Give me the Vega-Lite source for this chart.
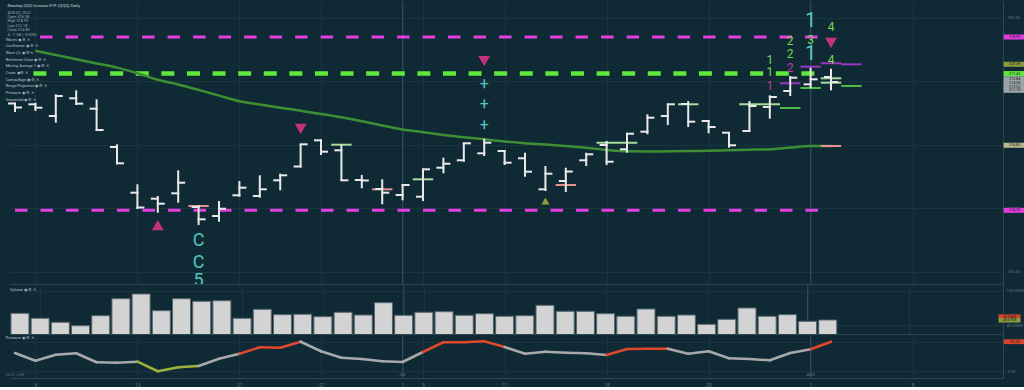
{
  "$schema": "https://vega.github.io/schema/vega-lite/v6.json",
  "background": "#102a35",
  "padding": {"left": 5, "top": 0, "right": 0, "bottom": 0},
  "spacing": 0,
  "bounds": "flush",
  "config": {
    "view": {"stroke": null},
    "font": "Roboto",
    "axis": {"labelFont": "Roboto", "labelFontSize": 4.2, "labelColor": "#5f7884", "gridColor": "#1a3440", "domainColor": "#2a4752", "ticks": false, "labelFlush": false, "labelOverlap": false}
  },
  "title": {
    "text": ["Waves  ◉ ⚙ ✕", "Confluence  ◉ ⚙ ✕", "Wave (2)  ◉ ⚙ ✕", "Reference Close  ◉ ⚙ ✕", "Moving Average 1  ◉ ⚙ ✕", "Cross  ◉ ⚙ ✕", "Camouflage  ◉ ⚙ ✕", "Range Projection  ◉ ⚙ ✕", "Pressure  ◉ ⚙ ✕", "Sequential  ◉ ⚙ ✕"],
    "anchor": "start", "orient": "top", "offset": 0, "dy": 101, "font": "Roboto", "fontSize": 3.8, "fontWeight": "normal", "color": "#b9c5ca", "lineHeight": 6.67
  },
  "datasets": {
    "bars": [
      {"i": 0, "d": "2022-06-03", "o": 308.02, "h": 308.27, "l": 305.34, "c": 306.76, "v": 61.0, "pr": 62.5, "pc": "n", "ma": null},
      {"i": 1, "d": "2022-06-06", "o": 307.77, "h": 308.27, "l": 305.65, "c": 306.69, "v": 52.3, "pr": 36.2, "pc": "n", "ma": 324.67},
      {"i": 2, "d": "2022-06-07", "o": 304.08, "h": 310.92, "l": 301.96, "c": 310.38, "v": 45.3, "pr": 56.7, "pc": "n", "ma": 323.31},
      {"i": 3, "d": "2022-06-08", "o": 309.66, "h": 312.18, "l": 307.55, "c": 307.96, "v": 39.3, "pr": 61.4, "pc": "n", "ma": 321.99},
      {"i": 4, "d": "2022-06-09", "o": 306.38, "h": 309.34, "l": 299.35, "c": 299.66, "v": 56.8, "pr": 30.7, "pc": "n", "ma": 320.66},
      {"i": 5, "d": "2022-06-10", "o": 294.30, "h": 295.15, "l": 288.85, "c": 289.16, "v": 86.5, "pr": 29.4, "pc": "n", "ma": 319.34},
      {"i": 6, "d": "2022-06-13", "o": 279.89, "h": 282.54, "l": 274.75, "c": 275.22, "v": 94.8, "pr": 32.8, "pc": "d", "ma": 317.54},
      {"i": 7, "d": "2022-06-14", "o": 278.00, "h": 278.85, "l": 273.58, "c": 276.42, "v": 65.6, "pr": 0.0, "pc": "d", "ma": 315.49},
      {"i": 8, "d": "2022-06-15", "o": 279.70, "h": 286.95, "l": 276.74, "c": 283.04, "v": 86.5, "pr": 13.7, "pc": "d", "ma": 314.01},
      {"i": 9, "d": "2022-06-16", "o": 275.38, "h": 276.01, "l": 269.70, "c": 271.50, "v": 82.0, "pr": 18.1, "pc": "n", "ma": 312.31},
      {"i": 10, "d": "2022-06-17", "o": 272.54, "h": 277.27, "l": 270.74, "c": 274.84, "v": 83.0, "pr": 43.0, "pc": "n", "ma": 310.51},
      {"i": 11, "d": "2022-06-21", "o": 279.07, "h": 283.58, "l": 278.63, "c": 281.47, "v": 52.3, "pr": 60.1, "pc": "u", "ma": 308.74},
      {"i": 12, "d": "2022-06-22", "o": 278.85, "h": 285.38, "l": 278.31, "c": 280.96, "v": 68.0, "pr": 81.9, "pc": "u", "ma": 307.70},
      {"i": 13, "d": "2022-06-23", "o": 283.80, "h": 285.88, "l": 280.65, "c": 285.38, "v": 58.6, "pr": 80.5, "pc": "u", "ma": 306.69},
      {"i": 14, "d": "2022-06-24", "o": 288.15, "h": 295.15, "l": 287.90, "c": 295.15, "v": 59.3, "pr": 101.0, "pc": "n", "ma": 305.72},
      {"i": 15, "d": "2022-06-27", "o": 296.41, "h": 296.73, "l": 291.78, "c": 292.82, "v": 55.1, "pr": 68.3, "pc": "n", "ma": 304.74},
      {"i": 16, "d": "2022-06-28", "o": 293.26, "h": 295.15, "l": 283.58, "c": 283.80, "v": 62.8, "pr": 46.4, "pc": "n", "ma": 303.67},
      {"i": 17, "d": "2022-06-29", "o": 283.89, "h": 285.47, "l": 281.28, "c": 283.74, "v": 58.0, "pr": 42.0, "pc": "n", "ma": 302.41},
      {"i": 18, "d": "2022-06-30", "o": 281.06, "h": 284.11, "l": 276.23, "c": 279.89, "v": 79.5, "pr": 34.1, "pc": "n", "ma": 301.11},
      {"i": 19, "d": "2022-07-01", "o": 279.16, "h": 282.54, "l": 277.49, "c": 282.32, "v": 57.5, "pr": 31.7, "pc": "n", "ma": 299.82},
      {"i": 20, "d": "2022-07-05", "o": 278.63, "h": 287.46, "l": 277.27, "c": 287.27, "v": 62.8, "pr": 65.9, "pc": "u", "ma": 298.97},
      {"i": 21, "d": "2022-07-06", "o": 287.77, "h": 290.93, "l": 286.01, "c": 289.03, "v": 63.8, "pr": 99.0, "pc": "u", "ma": 298.12},
      {"i": 22, "d": "2022-07-07", "o": 290.11, "h": 295.66, "l": 289.66, "c": 295.47, "v": 57.5, "pr": 99.0, "pc": "u", "ma": 297.39},
      {"i": 23, "d": "2022-07-08", "o": 292.31, "h": 296.92, "l": 291.46, "c": 295.66, "v": 60.3, "pr": 102.4, "pc": "u", "ma": 296.73},
      {"i": 24, "d": "2022-07-11", "o": 293.04, "h": 293.26, "l": 288.62, "c": 289.35, "v": 55.8, "pr": 82.9, "pc": "n", "ma": 296.07},
      {"i": 25, "d": "2022-07-12", "o": 290.74, "h": 292.50, "l": 284.93, "c": 286.51, "v": 56.8, "pr": 60.1, "pc": "n", "ma": 295.50},
      {"i": 26, "d": "2022-07-13", "o": 280.96, "h": 288.31, "l": 280.42, "c": 285.88, "v": 75.0, "pr": 66.9, "pc": "n", "ma": 295.06},
      {"i": 27, "d": "2022-07-14", "o": 283.58, "h": 287.77, "l": 280.11, "c": 286.57, "v": 64.5, "pr": 63.5, "pc": "n", "ma": 294.58},
      {"i": 28, "d": "2022-07-15", "o": 290.11, "h": 292.50, "l": 288.31, "c": 292.00, "v": 64.5, "pr": 61.4, "pc": "n", "ma": 294.05},
      {"i": 29, "d": "2022-07-18", "o": 294.93, "h": 296.19, "l": 288.62, "c": 289.66, "v": 60.3, "pr": 55.6, "pc": "u", "ma": 293.39},
      {"i": 30, "d": "2022-07-19", "o": 293.58, "h": 298.81, "l": 292.50, "c": 298.49, "v": 55.8, "pr": 76.1, "pc": "u", "ma": 292.94},
      {"i": 31, "d": "2022-07-20", "o": 299.13, "h": 304.61, "l": 298.31, "c": 303.54, "v": 68.5, "pr": 77.1, "pc": "u", "ma": 292.88},
      {"i": 32, "d": "2022-07-21", "o": 304.08, "h": 307.96, "l": 301.24, "c": 307.77, "v": 55.8, "pr": 77.1, "pc": "n", "ma": 292.94},
      {"i": 33, "d": "2022-07-22", "o": 307.86, "h": 308.81, "l": 300.61, "c": 302.28, "v": 58.0, "pr": 60.1, "pc": "n", "ma": 293.01},
      {"i": 34, "d": "2022-07-25", "o": 302.50, "h": 302.82, "l": 298.62, "c": 300.61, "v": 41.8, "pr": 68.3, "pc": "n", "ma": 293.13},
      {"i": 35, "d": "2022-07-26", "o": 298.81, "h": 299.03, "l": 294.08, "c": 294.84, "v": 50.5, "pr": 44.4, "pc": "n", "ma": 293.29},
      {"i": 36, "d": "2022-07-27", "o": 299.35, "h": 308.81, "l": 299.13, "c": 307.23, "v": 70.3, "pr": 42.0, "pc": "n", "ma": 293.45},
      {"i": 37, "d": "2022-07-28", "o": 306.91, "h": 310.60, "l": 303.23, "c": 310.07, "v": 55.8, "pr": 37.5, "pc": "n", "ma": 293.61},
      {"i": 38, "d": "2022-07-29", "o": 311.96, "h": 316.69, "l": 310.38, "c": 316.15, "v": 58.6, "pr": 62.5, "pc": "n", "ma": 294.11},
      {"i": 39, "d": "2022-08-01", "o": 314.07, "h": 319.31, "l": 312.81, "c": 315.65, "v": 47.0, "pr": 75.1, "pc": "u", "ma": 294.62},
      {"i": 40, "d": "2022-08-02", "o": 316.38, "h": 318.99, "l": 312.18, "c": 314.80, "v": 49.3, "pr": 101.0, "pc": "u", "ma": 294.62}
    ],
    "months": [
      {"i": 0, "t": "2022 JUN"},
      {"i": 19, "t": "JUL"},
      {"i": 39, "t": "AUG"}
    ],
    "dash": [
      {"a": 1.23, "b": 39.4, "p": 328.99, "k": "mag"},
      {"a": 0, "b": 39.4, "p": 274.33, "k": "mag"},
      {"a": 0.9, "b": 39.8, "p": 317.45, "k": "grn"}
    ],
    "levels": [
      {"a": 8.5, "b": 9.5, "p": 275.69, "k": "pk"},
      {"a": 15.5, "b": 16.5, "p": 295.03, "k": "lg"},
      {"a": 17.5, "b": 18.5, "p": 280.96, "k": "pk"},
      {"a": 19.5, "b": 20.5, "p": 284.11, "k": "lg"},
      {"a": 26.5, "b": 27.5, "p": 282.32, "k": "pk"},
      {"a": 28.5, "b": 30.5, "p": 295.66, "k": "lg"},
      {"a": 32.5, "b": 33.5, "p": 307.77, "k": "lg"},
      {"a": 35.5, "b": 37.5, "p": 307.77, "k": "lg"},
      {"a": 37.5, "b": 38.5, "p": 306.6, "k": "gr"},
      {"a": 37.5, "b": 38.5, "p": 314.39, "k": "pu"},
      {"a": 38.5, "b": 39.5, "p": 319.62, "k": "pu"},
      {"a": 38.5, "b": 39.5, "p": 312.9, "k": "gr"},
      {"a": 39.5, "b": 40.5, "p": 320.7, "k": "pu"},
      {"a": 39.5, "b": 40.5, "p": 315.97, "k": "lg"},
      {"a": 39.5, "b": 40.5, "p": 314.58, "k": "lg"},
      {"a": 39.5, "b": 40.5, "p": 294.62, "k": "pk"},
      {"a": 40.5, "b": 41.5, "p": 320.38, "k": "pu"},
      {"a": 40.5, "b": 41.5, "p": 313.54, "k": "gr"}
    ],
    "signals": [
      {"i": 14, "p": 299.98, "k": "dn"},
      {"i": 23, "p": 321.42, "k": "dn"},
      {"i": 40, "p": 327.1, "k": "dn"},
      {"i": 7, "p": 269.7, "k": "up"},
      {"i": 26, "p": 277.27, "k": "upo"}
    ],
    "counts": [
      {"i": 37, "p": 321.74, "t": "1", "k": "g"},
      {"i": 37, "p": 317.95, "t": "1", "k": "g"},
      {"i": 37, "p": 313.54, "t": "1", "k": "m"},
      {"i": 38, "p": 327.73, "t": "2", "k": "g"},
      {"i": 38, "p": 323.63, "t": "2", "k": "g"},
      {"i": 38, "p": 319.21, "t": "2", "k": "m"},
      {"i": 39, "p": 334.04, "t": "1", "k": "cl"},
      {"i": 39, "p": 328.04, "t": "3", "k": "g"},
      {"i": 39, "p": 323.63, "t": "1", "k": "cl"},
      {"i": 40, "p": 332.14, "t": "4", "k": "g"},
      {"i": 40, "p": 321.74, "t": "4", "k": "g"},
      {"i": 9, "p": 264.66, "t": "C", "k": "cc"},
      {"i": 9, "p": 257.72, "t": "C", "k": "cc"},
      {"i": 9, "p": 252.2, "t": "5", "k": "cc"},
      {"i": 23, "p": 314.17, "t": "+", "k": "cp"},
      {"i": 23, "p": 307.86, "t": "+", "k": "cp"},
      {"i": 23, "p": 301.24, "t": "+", "k": "cp"}
    ],
    "tags": [
      {"pn": "price", "p": 328.99, "lab": "328.99", "k": "mag"},
      {"pn": "price", "p": 320.38, "lab": "320.38", "k": "olv"},
      {"pn": "price", "p": 317.45, "lab": "317.45", "k": "grn"},
      {"pn": "price", "p": 315.84, "lab": "315.84", "k": "gry"},
      {"pn": "price", "p": 314.58, "lab": "314.58", "k": "gry"},
      {"pn": "price", "p": 313.32, "lab": "313.32", "k": "gry"},
      {"pn": "price", "p": 312.18, "lab": "312.18", "k": "gry"},
      {"pn": "price", "p": 294.85, "lab": "294.85", "k": "kha"},
      {"pn": "price", "p": 274.33, "lab": "274.33", "k": "mag"},
      {"pn": "vol", "p": 55.35, "lab": "55.354M", "k": "red"},
      {"pn": "vol", "p": 48.68, "lab": "48.675M", "k": "olv"},
      {"pn": "pres", "p": 101.0, "lab": "101.00", "k": "red"}
    ]
  },
  "vconcat": [
    {
      "width": 993,
      "height": 283,
      "title": {
        "text": "Nasdaq QQQ Invesco ETF (QQQ)  Daily",
        "subtitle": ["AUG 02, 2022", "Open 316.38", "High 318.99", "Low 312.18", "Close 314.80", "Δ −1.58 (−0.50%)"],
        "anchor": "start", "orient": "top", "offset": 0, "dy": 36,
        "font": "Roboto", "fontSize": 4.3, "fontWeight": "normal", "color": "#c8d2d6",
        "subtitleFont": "Roboto", "subtitleFontSize": 3.8, "subtitleColor": "#9eafb6", "subtitleLineHeight": 4.4, "subtitlePadding": 2
      },
      "layer": [
        {
          "data": {"name": "months"},
          "transform": [{"filter": "datum.i > 0"}],
          "mark": {"type": "rule", "color": "#2f4e5a", "strokeWidth": 1},
          "encoding": {
            "x": {"field": "i", "type": "quantitative", "title": null, "scale": {"domain": [-0.245, 48.43], "nice": false, "zero": false},
                  "axis": {"orient": "bottom", "values": [1, 6, 11, 15, 19, 20, 24, 29, 34, 39, 44], "labels": false, "ticks": false, "grid": true, "domain": true}}
          }
        },
        {
          "data": {"name": "dash"},
          "transform": [{"filter": "datum.k == 'mag'"}],
          "mark": {"type": "rule", "color": "#e23ee0", "strokeWidth": 3, "strokeDash": [12.5, 13]},
          "encoding": {
            "x": {"field": "a", "type": "quantitative", "title": null},
            "x2": {"field": "b"},
            "y": {"field": "p", "type": "quantitative", "title": null, "scale": {"domain": [251.1, 340.34], "nice": false, "zero": false},
                  "axis": {"orient": "right", "values": [255, 260, 265, 270, 275, 280, 285, 290, 295, 300, 305, 310, 315, 320, 325, 330, 335], "format": ".2f", "grid": true, "ticks": false, "domain": true, "labelPadding": 4}}
          }
        },
        {
          "data": {"name": "dash"},
          "transform": [{"filter": "datum.k == 'grn'"}],
          "mark": {"type": "rule", "color": "#5ee83c", "strokeWidth": 4.5, "strokeDash": [13, 12.6]},
          "encoding": {
            "x": {"field": "a", "type": "quantitative", "title": null},
            "x2": {"field": "b"},
            "y": {"field": "p", "type": "quantitative", "title": null}
          }
        },
        {
          "data": {"name": "bars"},
          "mark": {"type": "line", "color": "#3e8e33", "strokeWidth": 2.5, "interpolate": "monotone"},
          "encoding": {
            "x": {"field": "i", "type": "quantitative", "title": null},
            "y": {"field": "ma", "type": "quantitative", "title": null}
          }
        },
        {
          "data": {"name": "levels"},
          "mark": {"type": "rule", "strokeWidth": 2},
          "encoding": {
            "x": {"field": "a", "type": "quantitative", "title": null},
            "x2": {"field": "b"},
            "y": {"field": "p", "type": "quantitative", "title": null},
            "color": {"field": "k", "type": "nominal", "legend": null, "scale": {"domain": ["lg", "pk", "gr", "pu"], "range": ["#a6dc9c", "#e79191", "#4cbb47", "#9a36c2"]}}
          }
        },
        {
          "data": {"name": "bars"},
          "mark": {"type": "rule", "color": "#e9e9e9", "strokeWidth": 2},
          "encoding": {
            "x": {"field": "i", "type": "quantitative", "title": null},
            "y": {"field": "l", "type": "quantitative", "title": null},
            "y2": {"field": "h"}
          }
        },
        {
          "data": {"name": "bars"},
          "mark": {"type": "rule", "color": "#e9e9e9", "strokeWidth": 2, "x2Offset": -6, "strokeCap": "square"},
          "encoding": {
            "x": {"field": "i", "type": "quantitative", "title": null},
            "x2": {"field": "i"},
            "y": {"field": "o", "type": "quantitative", "title": null}
          }
        },
        {
          "data": {"name": "bars"},
          "mark": {"type": "rule", "color": "#e9e9e9", "strokeWidth": 2, "x2Offset": 6, "strokeCap": "square"},
          "encoding": {
            "x": {"field": "i", "type": "quantitative", "title": null},
            "x2": {"field": "i"},
            "y": {"field": "c", "type": "quantitative", "title": null}
          }
        },
        {
          "data": {"name": "signals"},
          "transform": [{"filter": "datum.k == 'dn'"}],
          "mark": {"type": "point", "shape": "triangle-down", "filled": true, "size": 140, "color": "#c3327f", "opacity": 1},
          "encoding": {
            "x": {"field": "i", "type": "quantitative", "title": null},
            "y": {"field": "p", "type": "quantitative", "title": null}
          }
        },
        {
          "data": {"name": "signals"},
          "transform": [{"filter": "datum.k == 'up'"}],
          "mark": {"type": "point", "shape": "triangle-up", "filled": true, "size": 140, "color": "#c3327f", "opacity": 1},
          "encoding": {
            "x": {"field": "i", "type": "quantitative", "title": null},
            "y": {"field": "p", "type": "quantitative", "title": null}
          }
        },
        {
          "data": {"name": "signals"},
          "transform": [{"filter": "datum.k == 'upo'"}],
          "mark": {"type": "point", "shape": "triangle-up", "filled": true, "size": 64, "color": "#8e9b3b", "opacity": 1},
          "encoding": {
            "x": {"field": "i", "type": "quantitative", "title": null},
            "y": {"field": "p", "type": "quantitative", "title": null}
          }
        },
        {
          "data": {"name": "counts"},
          "transform": [{"filter": "datum.k == 'g'"}],
          "mark": {"type": "text", "fontSize": 12, "color": "#74d94f", "align": "center", "baseline": "middle", "clip": true},
          "encoding": {
            "x": {"field": "i", "type": "quantitative", "title": null},
            "y": {"field": "p", "type": "quantitative", "title": null},
            "text": {"field": "t"}
          }
        },
        {
          "data": {"name": "counts"},
          "transform": [{"filter": "datum.k == 'm'"}],
          "mark": {"type": "text", "fontSize": 12, "color": "#c03ca6", "align": "center", "baseline": "middle", "clip": true},
          "encoding": {
            "x": {"field": "i", "type": "quantitative", "title": null},
            "y": {"field": "p", "type": "quantitative", "title": null},
            "text": {"field": "t"}
          }
        },
        {
          "data": {"name": "counts"},
          "transform": [{"filter": "datum.k == 'cl'"}],
          "mark": {"type": "text", "fontSize": 20, "color": "#55c6c0", "align": "center", "baseline": "middle", "clip": true},
          "encoding": {
            "x": {"field": "i", "type": "quantitative", "title": null},
            "y": {"field": "p", "type": "quantitative", "title": null},
            "text": {"field": "t"}
          }
        },
        {
          "data": {"name": "counts"},
          "transform": [{"filter": "datum.k == 'cc'"}],
          "mark": {"type": "text", "fontSize": 18, "color": "#55c6c0", "align": "center", "baseline": "middle", "clip": true},
          "encoding": {
            "x": {"field": "i", "type": "quantitative", "title": null},
            "y": {"field": "p", "type": "quantitative", "title": null},
            "text": {"field": "t"}
          }
        },
        {
          "data": {"name": "counts"},
          "transform": [{"filter": "datum.k == 'cp'"}],
          "mark": {"type": "text", "fontSize": 16, "color": "#55c6c0", "align": "center", "baseline": "middle", "clip": true},
          "encoding": {
            "x": {"field": "i", "type": "quantitative", "title": null},
            "y": {"field": "p", "type": "quantitative", "title": null},
            "text": {"field": "t"}
          }
        },
        {
          "data": {"name": "tags"},
          "transform": [{"filter": "datum.pn == 'price'"}],
          "mark": {"type": "point", "shape": "M-1,-0.23H1V0.23H-1Z", "filled": true, "size": 484, "opacity": 1},
          "encoding": {
            "x": {"datum": 49},
            "y": {"field": "p", "type": "quantitative", "title": null},
            "color": {"field": "k", "type": "nominal", "legend": null, "scale": {"domain": ["mag", "olv", "grn", "gry", "kha", "red"], "range": ["#e03ddd", "#8c9a3e", "#5ee83c", "#9aa3a7", "#b7b78d", "#d8472c"]}}
          }
        },
        {
          "data": {"name": "tags"},
          "transform": [{"filter": "datum.pn == 'price'"}],
          "mark": {"type": "text", "fontSize": 3.6, "color": "#1b1b1b", "align": "center", "baseline": "middle"},
          "encoding": {
            "x": {"datum": 49},
            "y": {"field": "p", "type": "quantitative", "title": null},
            "text": {"field": "lab"}
          }
        }
      ],
      "resolve": {"scale": {"color": "independent"}}
    },
    {
      "width": 993,
      "height": 50,
      "title": {"text": "Volume  ◉ ⚙ ✕", "anchor": "start", "orient": "top", "offset": 0, "dy": 7.8, "font": "Roboto", "fontSize": 3.8, "fontWeight": "normal", "color": "#b9c5ca"},
      "layer": [
        {
          "data": {"name": "months"},
          "transform": [{"filter": "datum.i > 0"}],
          "mark": {"type": "rule", "color": "#2f4e5a", "strokeWidth": 1},
          "encoding": {
            "x": {"field": "i", "type": "quantitative", "title": null, "scale": {"domain": [-0.245, 48.43], "nice": false, "zero": false},
                  "axis": {"orient": "bottom", "values": [1, 6, 11, 15, 19, 20, 24, 29, 34, 39, 44], "labels": false, "ticks": false, "grid": true, "domain": true}}
          }
        },
        {
          "data": {"name": "bars"},
          "mark": {"type": "bar", "width": 18, "fill": "#d3d3d3", "stroke": "#55656b", "strokeWidth": 1, "clip": true},
          "encoding": {
            "x": {"field": "i", "type": "quantitative", "title": null},
            "y": {"field": "v", "type": "quantitative", "title": null, "scale": {"domain": [24.8, 112.2], "nice": false, "zero": false},
                  "axis": {"orient": "right", "values": [40, 60, 80, 100], "labelExpr": "format(datum.value, '.3f') + 'M'", "grid": true, "ticks": false, "domain": true, "labelPadding": 3}}
          }
        },
        {
          "data": {"name": "tags"},
          "transform": [{"filter": "datum.pn == 'vol'"}],
          "mark": {"type": "point", "shape": "M-1,-0.2H1V0.2H-1Z", "filled": true, "size": 484, "opacity": 1},
          "encoding": {
            "x": {"datum": 49},
            "y": {"field": "p", "type": "quantitative", "title": null},
            "color": {"field": "k", "type": "nominal", "legend": null, "scale": {"domain": ["mag", "olv", "grn", "gry", "kha", "red"], "range": ["#e03ddd", "#8c9a3e", "#5ee83c", "#9aa3a7", "#b7b78d", "#d8472c"]}}
          }
        },
        {
          "data": {"name": "tags"},
          "transform": [{"filter": "datum.pn == 'vol'"}],
          "mark": {"type": "text", "fontSize": 3.4, "color": "#1b1b1b", "align": "center", "baseline": "middle"},
          "encoding": {
            "x": {"datum": 49},
            "y": {"field": "p", "type": "quantitative", "title": null},
            "text": {"field": "lab"}
          }
        }
      ]
    },
    {
      "width": 993,
      "height": 44,
      "title": {"text": "Pressure  ◉ ⚙ ✕", "anchor": "start", "orient": "top", "offset": 0, "dy": 5.8, "font": "Roboto", "fontSize": 3.8, "fontWeight": "normal", "color": "#b9c5ca"},
      "layer": [
        {
          "data": {"name": "months"},
          "transform": [{"filter": "datum.i > 0"}],
          "mark": {"type": "rule", "color": "#2f4e5a", "strokeWidth": 1},
          "encoding": {
            "x": {"field": "i", "type": "quantitative", "title": null, "scale": {"domain": [-0.245, 48.43], "nice": false, "zero": false},
                  "axis": {"orient": "bottom", "values": [1, 6, 11, 15, 19, 20, 24, 29, 34, 39, 44], "labelExpr": "['6','13','21','27','1','5','11','18','25','1','8'][indexof([1,6,11,15,19,20,24,29,34,39,44], datum.value)]", "labelFontSize": 4.5, "labelPadding": 4, "ticks": false, "grid": true, "domain": true}}
          }
        },
        {
          "data": {"name": "bars"},
          "transform": [
            {"window": [{"op": "lead", "field": "pr", "as": "pr2"}, {"op": "lead", "field": "i", "as": "i2"}], "sort": [{"field": "i"}]},
            {"filter": "datum.i2 != null"}
          ],
          "mark": {"type": "rule", "strokeWidth": 2.6, "strokeCap": "round"},
          "encoding": {
            "x": {"field": "i", "type": "quantitative", "title": null},
            "x2": {"field": "i2"},
            "y": {"field": "pr", "type": "quantitative", "title": null, "scale": {"domain": [-22.9, 127.3], "nice": false, "zero": false},
                  "axis": {"orient": "right", "values": [0, 25, 50, 75, 100], "format": ".2f", "grid": true, "ticks": false, "domain": true, "labelPadding": 4}},
            "y2": {"field": "pr2"},
            "color": {"field": "pc", "type": "nominal", "legend": null, "scale": {"domain": ["n", "d", "u"], "range": ["#a7a9aa", "#9db23a", "#e0482c"]}}
          }
        },
        {
          "data": {"name": "months"},
          "mark": {"type": "text", "fontSize": 4.2, "color": "#5f7884", "align": "center", "baseline": "middle"},
          "encoding": {
            "x": {"field": "i", "type": "quantitative", "title": null},
            "y": {"datum": -12.6},
            "text": {"field": "t"}
          }
        },
        {
          "data": {"name": "tags"},
          "transform": [{"filter": "datum.pn == 'pres'"}],
          "mark": {"type": "point", "shape": "M-1,-0.22H1V0.22H-1Z", "filled": true, "size": 484, "opacity": 1, "color": "#d8472c"},
          "encoding": {
            "x": {"datum": 49},
            "y": {"field": "p", "type": "quantitative", "title": null}
          }
        },
        {
          "data": {"name": "tags"},
          "transform": [{"filter": "datum.pn == 'pres'"}],
          "mark": {"type": "text", "fontSize": 3.4, "color": "#1b1b1b", "align": "center", "baseline": "middle"},
          "encoding": {
            "x": {"datum": 49},
            "y": {"field": "p", "type": "quantitative", "title": null},
            "text": {"field": "lab"}
          }
        }
      ],
      "resolve": {"scale": {"color": "independent"}}
    }
  ],
  "resolve": {"scale": {"x": "independent", "y": "independent", "color": "independent"}}
}
